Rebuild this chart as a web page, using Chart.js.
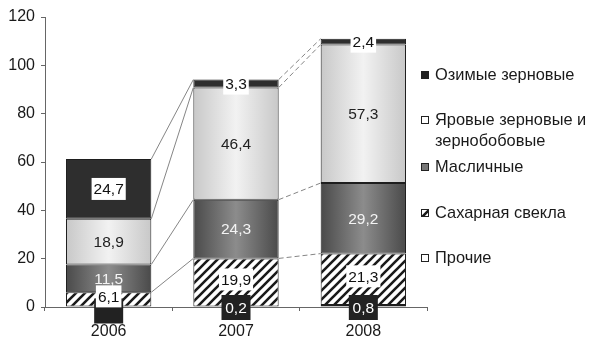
<!DOCTYPE html>
<html>
<head>
<meta charset="utf-8">
<script src="https://cdn.jsdelivr.net/npm/chart.js@4"></script>
<style>
  html, body { margin: 0; padding: 0; background: #fff; }
  #wrap { width: 590px; height: 338px; position: relative; }
</style>
</head>
<body>
<div id="wrap"><canvas id="chart" width="590" height="338"></canvas></div>
<script>
// Посевные площади по культурам, тыс. га
const years = ['2006', '2007', '2008'];
const winterGrain = [24.7, 3.3, 2.4];   // Озимые зерновые
const springGrain = [18.9, 46.4, 57.3]; // Яровые зерновые и зернобобовые
const oilseeds = [11.5, 24.3, 29.2];    // Масличные
const sugarBeet = [6.1, 19.9, 21.3];    // Сахарная свекла
const other = [0, 0.2, 0.8];            // Прочие
const yTicks = [0, 20, 40, 60, 80, 100, 120];

const FONT = '"Liberation Sans", Arial, sans-serif';
const BAR_PCT = 0.67;

function fmt(v) { return v.toFixed(1).replace('.', ','); }

// diagonal hatch used for sugar beet
function hatchPattern() {
  const n = 9;
  const c = document.createElement('canvas');
  c.width = n; c.height = n;
  const g = c.getContext('2d');
  g.fillStyle = '#fff';
  g.fillRect(0, 0, n, n);
  g.strokeStyle = '#1a1a1a';
  g.lineWidth = 2.6;
  g.beginPath();
  g.moveTo(-2, n + 2); g.lineTo(n + 2, -2);
  g.moveTo(-2, 2); g.lineTo(2, -2);
  g.moveTo(n - 2, n + 2); g.lineTo(n + 2, n - 2);
  g.stroke();
  return g.createPattern(c, 'repeat');
}
const hatch = hatchPattern();

// horizontal shading across each bar
function shaded(edge, mid) {
  return function (ctx) {
    const chart = ctx.chart;
    const xs = chart.scales.x;
    if (!xs || !chart.chartArea) return mid;
    const cx = xs.getPixelForValue(ctx.dataIndex);
    const half = (xs.getPixelForValue(1) - xs.getPixelForValue(0)) * BAR_PCT / 2;
    const g = chart.ctx.createLinearGradient(cx - half, 0, cx + half, 0);
    g.addColorStop(0, edge);
    g.addColorStop(0.5, mid);
    g.addColorStop(1, edge);
    return g;
  };
}

const series = [
  { label: 'Прочие', data: other, bg: '#2a2a2a', box: '#222', text: '#fff', legendFill: '#fff' },
  { label: 'Сахарная свекла', data: sugarBeet, bg: hatch, box: '#fff', text: '#111', legendFill: hatch },
  { label: 'Масличные', data: oilseeds, bg: shaded('#4a4a4a', '#8c8c8c'), box: null, text: '#f4f4f4', legendFill: '#777' },
  { label: 'Яровые зерновые и\nзернобобовые', data: springGrain, bg: shaded('#c8c8c8', '#f2f2f2'), box: null, text: '#222', legendFill: '#fff' },
  { label: 'Озимые зерновые', data: winterGrain, bg: '#2e2e2e', box: '#fff', text: '#111', legendFill: '#222' }
];

// thin connector lines between neighbouring bars
const seriesLines = {
  id: 'seriesLines',
  afterDatasetsDraw(chart) {
    const ctx = chart.ctx;
    ctx.save();
    ctx.strokeStyle = '#777';
    ctx.lineWidth = 0.9;
    chart.data.datasets.forEach((ds, di) => {
      if (di === 0) return;
      const meta = chart.getDatasetMeta(di);
      for (let i = 0; i < meta.data.length - 1; i++) {
        const a = meta.data[i], b = meta.data[i + 1];
        ctx.setLineDash(i === 0 ? [] : [5, 3]);
        ctx.beginPath();
        ctx.moveTo(a.x + a.width / 2, a.y);
        ctx.lineTo(b.x - b.width / 2, b.y);
        ctx.stroke();
      }
    });
    ctx.restore();
  }
};

// value labels inside segments
const valueLabels = {
  id: 'valueLabels',
  afterDatasetsDraw(chart) {
    const ctx = chart.ctx;
    ctx.save();
    ctx.font = '15.5px ' + FONT;
    ctx.textAlign = 'center';
    ctx.textBaseline = 'middle';
    chart.data.datasets.forEach((ds, di) => {
      const s = series[di];
      const meta = chart.getDatasetMeta(di);
      meta.data.forEach((el, i) => {
        const v = ds.data[i];
        const txt = v > 0 ? fmt(v) : '';
        const cx = el.x;
        let cy = (el.y + el.base) / 2;
        if (di === 0) cy = el.base + (v > 0 ? 1 : 4);
        if (di === 1) cy -= 3;
        if (s.box) {
          const w = di === 0 ? 29 : Math.max(ctx.measureText(txt).width + 4, 20);
          const h = di === 0 ? 25 : 22;
          ctx.fillStyle = s.box;
          ctx.fillRect(cx - w / 2, cy - h / 2, w, h);
        }
        if (txt) {
          ctx.fillStyle = s.text;
          ctx.fillText(txt, cx, cy + 1);
        }
      });
    });
    ctx.restore();
  }
};

// legend at the right
const sideLegend = {
  id: 'sideLegend',
  afterDraw(chart) {
    const ctx = chart.ctx;
    const x0 = chart.chartArea.right - 2;
    const rows = [
      { s: 4, y: 75 },
      { s: 3, y: 120 },
      { s: 2, y: 167 },
      { s: 1, y: 213 },
      { s: 0, y: 258 }
    ];
    ctx.save();
    ctx.font = '16.4px ' + FONT;
    ctx.textBaseline = 'middle';
    ctx.textAlign = 'left';
    rows.forEach(r => {
      const s = series[r.s];
      ctx.fillStyle = s.legendFill;
      ctx.fillRect(x0 - 3.5, r.y - 3.5, 7, 7);
      ctx.strokeStyle = '#222';
      ctx.lineWidth = 1;
      ctx.strokeRect(x0 - 3.5, r.y - 3.5, 7, 7);
      ctx.fillStyle = '#1a1a1a';
      s.label.split('\n').forEach((line, k) => {
        ctx.fillText(line, x0 + 10, r.y + k * 21);
      });
    });
    ctx.restore();
  }
};

new Chart(document.getElementById('chart'), {
  type: 'bar',
  data: {
    labels: years,
    datasets: series.map(s => ({
      label: s.label,
      data: s.data,
      backgroundColor: s.bg,
      borderColor: '#1e1e1e',
      borderWidth: 1,
      borderSkipped: false,
      categoryPercentage: 1,
      barPercentage: BAR_PCT
    }))
  },
  options: {
    responsive: false,
    animation: false,
    layout: { padding: { left: 0, right: 163, top: 17, bottom: 0 } },
    plugins: { legend: { display: false }, tooltip: { enabled: false } },
    scales: {
      x: {
        stacked: true,
        afterFit(scale) { scale.height = 31; },
        border: { color: '#666', width: 1 },
        grid: { drawOnChartArea: false, drawTicks: true, tickLength: 4, color: '#666', offset: true },
        ticks: { color: '#1a1a1a', font: { family: FONT, size: 16 }, padding: 11 }
      },
      y: {
        stacked: true,
        min: 0,
        max: 120,
        afterFit(scale) { scale.width = 45; },
        afterBuildTicks(scale) { scale.ticks = yTicks.map(v => ({ value: v })); },
        border: { color: '#666', width: 1 },
        grid: { drawOnChartArea: false, drawTicks: true, tickLength: 4, color: '#666' },
        ticks: { color: '#1a1a1a', font: { family: FONT, size: 16 }, padding: 6 }
      }
    }
  },
  plugins: [seriesLines, valueLabels, sideLegend]
});
</script>
</body>
</html>
